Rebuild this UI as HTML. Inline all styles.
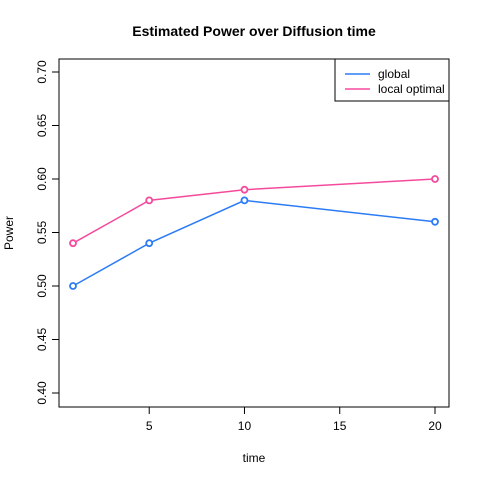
<!DOCTYPE html>
<html><head><meta charset="utf-8"><style>
body{margin:0;background:#fff;}
svg{display:block;font-family:"Liberation Sans",Arial,sans-serif;}
</style></head><body>
<svg id="chart" width="480" height="480" viewBox="0 0 480 480">
<rect width="480" height="480" fill="#fff"/>
<text x="254" y="36" text-anchor="middle" font-size="14" font-weight="bold">Estimated Power over Diffusion time</text>
<rect x="59" y="59" width="390" height="348" fill="none" stroke="#000" stroke-width="1"/>
<g id="xaxis"></g>
<g id="yaxis"></g>
<text x="254" y="462" text-anchor="middle" font-size="12">time</text>
<text transform="translate(13,233) rotate(-90)" text-anchor="middle" font-size="12">Power</text>
<g id="series"></g>
<g>
<rect x="335" y="59" width="114" height="42" fill="#fff" stroke="#000"/>
<line x1="345" y1="74" x2="370" y2="74" stroke="#2b7bf5" stroke-width="1.5"/>
<text x="378" y="78" font-size="12">global</text>
<line x1="345" y1="89" x2="370" y2="89" stroke="#f54a9c" stroke-width="1.5"/>
<text x="378" y="93" font-size="12">local optimal</text>
</g>
</svg>
<script>
const times=[1,5,10,20];
const globalVals=[0.50,0.54,0.58,0.56];
const localVals=[0.54,0.58,0.59,0.60];
const xTicks=[5,10,15,20];
const yTicks=[0.40,0.45,0.50,0.55,0.60,0.65,0.70];
const NS="http://www.w3.org/2000/svg";
function sx(v){return 73+(v-1)*(435-73)/19;}
function sy(v){return 393-(v-0.40)*1070;}
function mk(t,a,p){const e=document.createElementNS(NS,t);for(const k in a)e.setAttribute(k,a[k]);p.appendChild(e);return e;}
const xa=document.getElementById('xaxis'),ya=document.getElementById('yaxis'),sg=document.getElementById('series');
mk('line',{x1:sx(5),x2:sx(20),y1:407,y2:407,stroke:'#000'},xa);
xTicks.forEach(t=>{
 const l=mk('line',{x1:sx(t),x2:sx(t),y1:407,y2:414,stroke:'#000'},xa);
 
 
 const tx=mk('text',{x:sx(t),y:430,'text-anchor':'middle','font-size':12},xa);tx.textContent=t;
 
 
});
mk('line',{x1:59,x2:59,y1:sy(0.40),y2:sy(0.70),stroke:'#000'},ya);
yTicks.forEach(t=>{
 const l=mk('line',{x1:52,x2:59,y1:sy(t),y2:sy(t),stroke:'#000'},ya);
 
 
 const tx=mk('text',{transform:`translate(46,${sy(t)}) rotate(-90)`,'text-anchor':'middle','font-size':12},ya);tx.textContent=t.toFixed(2);
 
 
});
function series(vals,color,name){
 const pl=mk('polyline',{points:vals.map((v,i)=>sx(times[i])+','+sy(v)).join(' '),fill:'none',stroke:color,'stroke-width':1.5},sg);
 
 
 vals.forEach((v,i)=>{
  const c=mk('circle',{cx:sx(times[i]),cy:sy(v),r:3,fill:'#fff',stroke:color,'stroke-width':1.8},sg);
  
  
 });
}
series(localVals,'#f54a9c','local-optimal');
series(globalVals,'#2b7bf5','global');
</script>
</body></html>
